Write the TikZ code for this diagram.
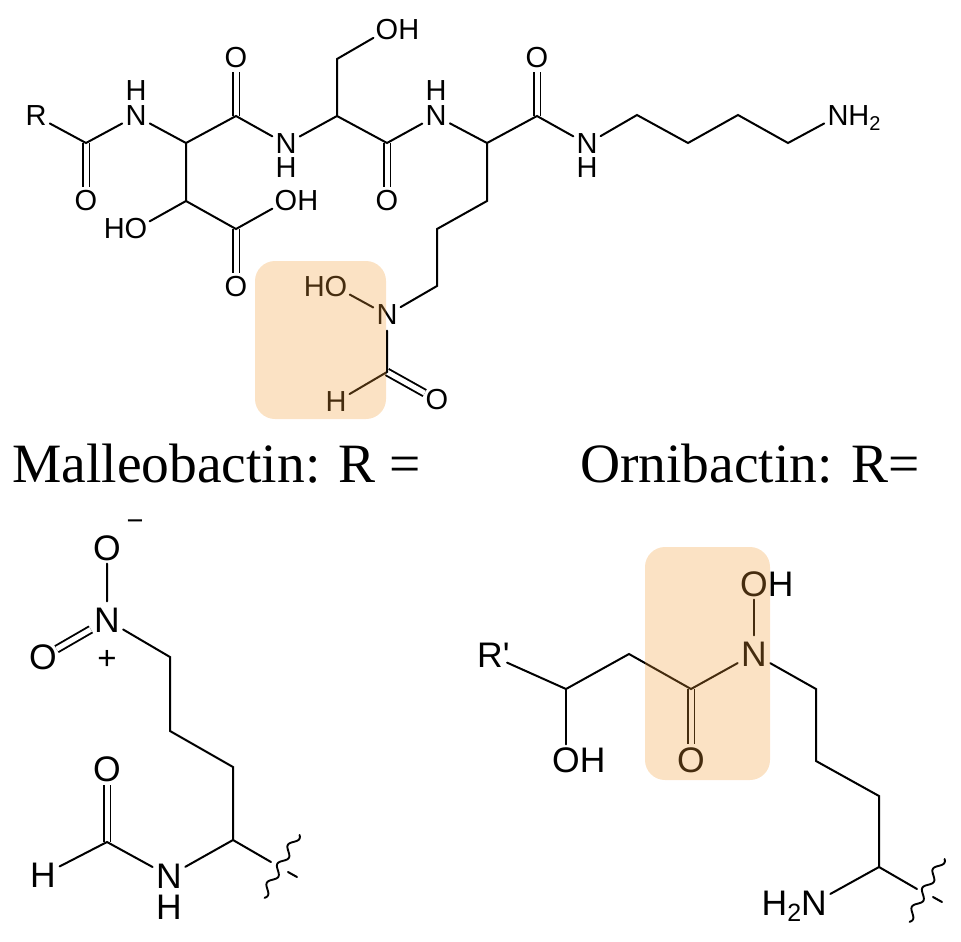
\documentclass[tikz,border=0pt]{standalone}
\usepackage{fontspec}
\newfontfamily\atomfont{Liberation Sans}
\newfontfamily\titlefont{Liberation Serif}
\definecolor{hilite}{RGB}{241,155,52}
\newcommand{\subtwo}{\raisebox{-5pt}[0pt][0pt]{\fontsize{20}{20}\selectfont 2}}
\newcommand{\subtwob}{\raisebox{-6pt}[0pt][0pt]{\fontsize{25}{25}\selectfont 2}}
\newcommand{\Hbelow}[1]{\llap{\raisebox{-#1}[0pt][0pt]{H}}}
\newcommand{\Habove}[1]{\llap{\raisebox{#1}[0pt][0pt]{H}}}
\newcommand{\squiggle}[1]{\draw[wavy,shift={(#1)}] plot[smooth,domain=0:1,samples=70] ({35*\x+3.6*0.877*sin(1200*\x+30)},{-63*\x+3.6*0.48*sin(1200*\x+30)});}
\tikzset{
  x=1pt,y=-1pt,
  bond/.style={line width=2pt,line cap=round,line join=miter},
  dbl/.style={line width=1.9pt,double,double distance=5pt},
  atom/.style={circle,inner sep=-6pt,minimum size=31pt,font=\atomfont\fontsize{29}{29}\selectfont},
  atomo/.style={atom,minimum size=28pt},
  atomb/.style={circle,inner sep=-6pt,minimum size=37pt,font=\atomfont\fontsize{35.5}{35.5}\selectfont},
  atombo/.style={atomb,minimum size=31pt},
  charge/.style={inner sep=0pt,font=\atomfont\fontsize{33}{33}\selectfont},
  minussign/.style={inner sep=0pt,font=\atomfont\fontsize{29}{29}\selectfont},
  title/.style={inner sep=0pt,anchor=base west,font=\titlefont\fontsize{55.5}{55.5}\selectfont},
  wavy/.style={line width=1.9pt,line cap=round},
  box/.style={fill=hilite,fill opacity=0.29,rounded corners=20pt,draw=none},
}
\begin{document}
\begin{tikzpicture}
\useasboundingbox (0,0) rectangle (961,942);
% ---------- top molecule
\node[atom] (r) at (36,116) {R};
\coordinate (c1) at (86,143);
\node[atomo] (o1) at (86,201) {O};
\node[atom] (n1) at (136,116) {N\Habove{25pt}};
\coordinate (ca1) at (186,143);
\coordinate (c2) at (236,116);
\node[atomo] (o2) at (236,58) {O};
\node[atom] (n2) at (286,144) {N\Hbelow{24pt}};
\coordinate (cs) at (337,116);
\coordinate (cs2) at (337,59);
\node[atom] (oh1) at (387,30) {O\rlap{H}};
\coordinate (c3) at (387,143);
\node[atomo] (o3) at (387,201) {O};
\node[atom] (n3) at (436,116) {N\Habove{25pt}};
\coordinate (ca2) at (487,143);
\coordinate (c4) at (537,116);
\node[atomo] (o4) at (537,58) {O};
\node[atom] (n4) at (587,144) {N\Hbelow{24pt}};
\coordinate (l1) at (637,115);
\coordinate (l2) at (688,143);
\coordinate (l3) at (738,115);
\coordinate (l4) at (788,143);
\node[atom] (nh2a) at (838,116) {N\rlap{H\subtwo}};
\coordinate (cb) at (186,201);
\node[atom] (ho1) at (136,229) {\llap{H}O};
\coordinate (cc) at (236,229);
\node[atom] (oh2) at (286,201) {O\rlap{H}};
\node[atomo] (o5) at (236,287) {O};
\coordinate (s1) at (487,201);
\coordinate (s2) at (437,229);
\coordinate (s3) at (437,286);
\node[atom] (n5) at (387,315) {N};
\node[atom] (ho2) at (336,287) {\llap{H}O};
\coordinate (cf) at (387,372);
\node[atomo] (o6) at (437,400) {O};
\node[atom] (hf) at (336,402) {H};
\draw[dbl] (c1) -- (o1);
\draw[dbl] (c2) -- (o2);
\draw[dbl] (c3) -- (o3);
\draw[dbl] (c4) -- (o4);
\draw[dbl] (cc) -- (o5);
\draw[dbl] (cf) -- (o6);
\draw[bond] (r) -- (c1) -- (n1) -- (ca1) -- (c2) -- (n2) -- (cs) -- (c3) -- (n3) -- (ca2) -- (c4) -- (n4) -- (l1) -- (l2) -- (l3) -- (l4) -- (nh2a);
\draw[bond] (cs) -- (cs2) -- (oh1);
\draw[bond] (ca1) -- (cb) -- (cc) -- (oh2);
\draw[bond] (cb) -- (ho1);
\draw[bond] (ca2) -- (s1) -- (s2) -- (s3) -- (n5) -- (cf) -- (hf);
\draw[bond] (n5) -- (ho2);
% ---------- titles
\node[title] (t1) at (12,482.5) {Malleobactin: R =};
\node[title] (t2) at (580,482.5) {Ornibactin: R=};
% ---------- bottom left
\node[atombo] (lo1) at (107,548) {O};
\node[minussign] (lminus) at (135,525) {−};
\node[atomb] (ln) at (107,620) {N};
\node[atombo] (lo2) at (43,657) {O};
\node[charge] (lplus) at (107,660) {+};
\coordinate (la) at (170,657);
\coordinate (lb) at (170,731);
\coordinate (lc) at (233,767);
\coordinate (ld) at (233,840);
\node[atomb] (lnh) at (169,876) {N\Hbelow{31pt}};
\coordinate (lf) at (107,842);
\node[atombo] (lo3) at (107,769) {O};
\node[atomb] (lh2) at (43,875) {H};
\coordinate (lw) at (271,862);
\coordinate (lw1) at (263,897);
\coordinate (lt1) at (288,872);
\coordinate (lt2) at (297,877);
\draw[dbl] (ln) -- (lo2);
\draw[dbl] (lf) -- (lo3);
\draw[bond] (lo1) -- (ln) -- (la) -- (lb) -- (lc) -- (ld) -- (lnh) -- (lf) -- (lh2);
\draw[bond] (ld) -- (lw);
\draw[bond] (lt1) -- (lt2);
\squiggle{lw1}
% ---------- bottom right
\node[atomb] (rr) at (490,655) {R\rlap{'}};
\coordinate (ra) at (566,689);
\coordinate (rb) at (629,654);
\coordinate (rc) at (691,689);
\node[atomb] (rn) at (754,654) {N};
\node[atombo] (roh) at (754,584) {O\rlap{H}};
\node[atombo] (ro) at (691,760) {O};
\node[atombo] (roh2) at (566,760) {O\rlap{H}};
\coordinate (rd) at (816,689);
\coordinate (re) at (816,761);
\coordinate (rf) at (879,796);
\coordinate (rg) at (879,867);
\node[atomb] (rnh) at (814,903) {\llap{H\subtwob}N};
\coordinate (rw) at (917,889);
\coordinate (rw1) at (908,921);
\coordinate (rt1) at (933,897);
\coordinate (rt2) at (942,902);
\draw[dbl] (rc) -- (ro);
\draw[bond] (rr) -- (ra) -- (rb) -- (rc) -- (rn) -- (rd) -- (re) -- (rf) -- (rg) -- (rnh);
\draw[bond] (ra) -- (roh2);
\draw[bond] (rn) -- (roh);
\draw[bond] (rg) -- (rw);
\draw[bond] (rt1) -- (rt2);
\squiggle{rw1}
% ---------- highlight panels (over the drawing, so lines tint brown)
\path[box] (255,261) rectangle (386,419);
\path[box] (645,547) rectangle (770,780);
\end{tikzpicture}
\end{document}
